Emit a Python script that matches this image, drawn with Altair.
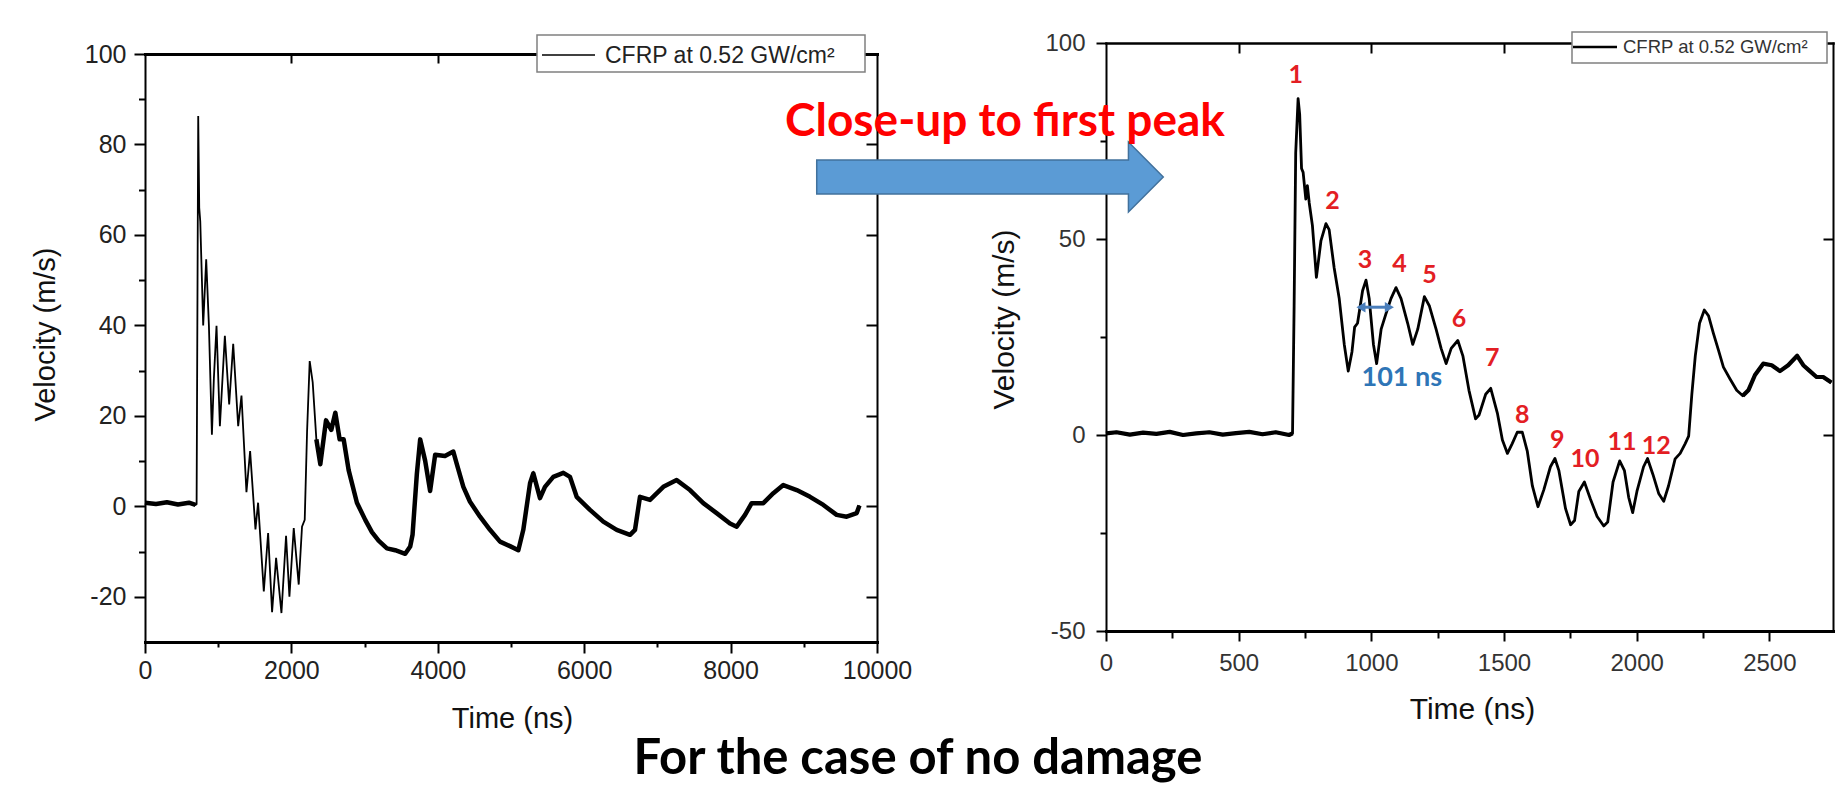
import altair as alt
import pandas as pd

# ---------------- data ----------------
left_time = [0, 150, 300, 450, 600, 690, 705, 727, 741, 755, 795, 836, 873, 914, 941, 977,
             1023, 1091, 1150, 1205, 1273, 1318, 1386, 1436, 1509, 1545, 1623, 1682, 1736,
             1791, 1864, 1927, 1973, 2032, 2100, 2145, 2182, 2214, 2250, 2291, 2341, 2395,
             2473, 2545, 2600, 2659, 2714, 2782, 2895, 3009, 3100, 3191, 3305, 3418, 3555,
             3623, 3655, 3714, 3759, 3827, 3895, 3964, 4098, 4212, 4257, 4349, 4440, 4577,
             4713, 4850, 4986, 5100, 5168, 5260, 5305, 5396, 5464, 5578, 5715, 5806, 5897,
             6079, 6261, 6444, 6626, 6694, 6762, 6899, 7081, 7263, 7445, 7627, 7809, 7992,
             8083, 8197, 8288, 8447, 8584, 8720, 8903, 9085, 9267, 9449, 9586, 9723, 9760]
left_velocity = [0.8, 0.5, 0.9, 0.4, 0.8, 0.3, 0.5, 86.3, 66.0, 63.0, 40.0, 54.6, 40.0, 15.8,
                 28.3, 39.9, 17.7, 37.7, 22.5, 35.9, 17.7, 24.5, 3.1, 12.2, -5.1, 0.8, -18.8,
                 -5.9, -23.4, -11.4, -23.6, -6.5, -20.0, -4.8, -17.3, -4.5, -3.0, 16.5, 32.1,
                 27.4, 14.8, 9.3, 19.0, 16.9, 20.7, 14.8, 14.8, 8.0, 0.8, -3.0, -5.7, -7.6,
                 -9.3, -9.7, -10.5, -8.9, -6.3, 7.2, 14.8, 10.1, 3.4, 11.4, 11.1, 12.1, 9.5,
                 4.3, 1.0, -2.3, -5.2, -7.8, -8.8, -9.7, -5.2, 5.1, 7.3, 1.8, 4.3, 6.5, 7.4,
                 6.5, 2.1, -0.8, -3.4, -5.2, -6.3, -5.2, 2.1, 1.4, 4.3, 5.8, 3.6, 0.7, -1.5,
                 -3.8, -4.5, -1.9, 0.7, 0.7, 2.9, 4.7, 3.6, 2.1, 0.3, -1.9, -2.3, -1.5, 0.2]

right_time = [0, 40, 90, 140, 190, 240, 290, 340, 390, 440, 490, 540, 590, 640, 690, 703,
              709, 715, 724, 730, 737, 743, 753, 759, 766, 778, 793, 810, 829, 841, 860, 879,
              898, 913, 927, 937, 948, 967, 980, 992, 1008, 1020, 1037, 1055, 1074, 1093,
              1112, 1137, 1156, 1175, 1200, 1219, 1244, 1263, 1282, 1301, 1326, 1345, 1368,
              1393, 1406, 1431, 1450, 1475, 1494, 1513, 1531, 1550, 1569, 1588, 1607, 1628,
              1650, 1675, 1692, 1707, 1732, 1751, 1766, 1782, 1803, 1826, 1851, 1876, 1891,
              1911, 1936, 1954, 1970, 1985, 2001, 2026, 2041, 2061, 2083, 2102, 2120, 2145,
              2164, 2183, 2196, 2208, 2221, 2237, 2255, 2271, 2289, 2308, 2327, 2352, 2377,
              2400, 2421, 2446, 2477, 2509, 2540, 2571, 2605, 2628, 2653, 2678, 2703, 2734]
right_velocity = [0.4, 0.7, 0.1, 0.6, 0.3, 0.8, 0.0, 0.4, 0.7, 0.1, 0.5, 0.8, 0.2, 0.7,
                  0.0, 0.4, 32.9, 72.0, 85.8, 81.7, 68.0, 67.0, 60.2, 63.6, 59.2, 53.4, 40.2,
                  49.5, 53.9, 52.4, 42.6, 34.8, 23.1, 16.3, 21.2, 27.5, 28.5, 36.8, 39.5, 34.8,
                  23.1, 18.2, 27.0, 30.9, 34.8, 37.6, 34.8, 28.5, 23.1, 27.0, 35.3, 32.9, 27.0,
                  22.1, 18.2, 22.1, 24.1, 20.2, 11.4, 4.1, 5.1, 10.4, 11.9, 5.6, -1.3, -4.7,
                  -2.2, 0.7, 0.7, -4.2, -13.0, -18.3, -14.0, -8.1, -6.0, -9.1, -18.8, -22.9,
                  -21.8, -14.4, -12.0, -16.4, -20.8, -23.2, -22.2, -12.0, -6.6, -9.1, -15.9,
                  -19.8, -14.4, -8.1, -6.0, -10.0, -14.9, -16.9, -13.0, -6.1, -4.7, -2.2, -0.3,
                  10.4, 20.2, 28.5, 31.9, 30.4, 26.0, 21.7, 17.3, 14.3, 11.4, 10.0, 11.4, 15.3,
                  18.2, 17.8, 16.3, 17.8, 20.2, 17.8, 16.3, 14.8, 14.8, 13.4]

peak_labels = ["1", "2", "3", "4", "5", "6", "7", "8", "9", "10", "11", "12"]
peak_time = [715, 854, 976, 1106, 1219, 1330, 1456, 1569, 1701, 1805, 1945, 2074]
peak_velocity = [91.9, 59.7, 44.6, 43.6, 40.7, 29.5, 19.7, 5.1, -1.3, -6.1, -1.8, -2.7]

period_text = "101 ns"
period_text_time = [1115]
period_text_velocity = [14.5]
period_arrow_time = [961, 1068]
period_arrow_velocity = [32.6, 32.6]

left_x_major = [0, 2000, 4000, 6000, 8000, 10000]
left_x_minor = [1000, 3000, 5000, 7000, 9000]
left_y_major = [-20, 0, 20, 40, 60, 80, 100]
left_y_minor = [-10, 10, 30, 50, 70, 90]
right_x_major = [0, 500, 1000, 1500, 2000, 2500]
right_x_minor = [250, 750, 1250, 1750, 2250]
right_y_major = [-50, 0, 50, 100]
right_y_minor = [-25, 25, 75]

legend_label = "CFRP at 0.52 GW/cm²"

# ---------------- layout (pixels, relative to the left plot origin) ----------------
W, H = 732, 588
RX = [961, 1688]
RY = [577, -11]
FONT = "Liberation Sans"
RED = "#E31E24"
BLUE = "#2E75B6"
ARROW_BLUE = "#4A7EBB"

left_df = pd.DataFrame({"t": left_time, "v": left_velocity})
right_df = pd.DataFrame({"t": right_time, "v": right_velocity})
peaks_df = pd.DataFrame({"t": peak_time, "v": peak_velocity, "label": peak_labels})
one = pd.DataFrame({"k": [0]})


def ax(**kw):
    base = dict(grid=False, labelFont=FONT, titleFont=FONT, tickColor="black",
                domainColor="black", labelFlush=False, labelOverlap=False,
                labelColor="#222222", titleColor="#111111", titleFontWeight="normal",
                domainCap="square", tickWidth=2, labelExpr="datum.value + ''")
    base.update(kw)
    return alt.Axis(**base)


def bare(values, orient, size, offset=0, domain=False, dw=2):
    kw = dict(values=values, orient=orient, tickSize=size, labels=False, title=None,
              domain=domain, domainWidth=dw)
    if offset:
        kw["offset"] = offset
    return ax(**kw)


lxs = alt.Scale(domain=[0, 10000], nice=False, zero=False)
lys = alt.Scale(domain=[-30, 100], nice=False, zero=False)
rxs = alt.Scale(domain=[0, 2740], range=RX, nice=False, zero=False)
rys = alt.Scale(domain=[-50, 100], range=RY, nice=False, zero=False)

# ---------------- left panel ----------------
left_main = alt.Chart(left_df).mark_line(color="black", strokeWidth=1.8).encode(
    x=alt.X("t:Q", scale=lxs, axis=ax(
        orient="bottom", values=left_x_major, tickSize=11, domainWidth=3,
        labelFontSize=25, labelPadding=5, title="Time (ns)", titleFontSize=29,
        titleX=367, titleY=76, titleBaseline="middle")),
    y=alt.Y("v:Q", scale=lys, axis=ax(
        orient="left", values=left_y_major, tickSize=11, domainWidth=2,
        labelFontSize=25, labelPadding=8, title="Velocity (m/s)", titleFontSize=29,
        titleX=-100, titleY=280, titleBaseline="middle")),
)
left_noise = alt.Chart(left_df).transform_calculate(
    seg="datum.t <= 700 ? 'a' : (datum.t >= 2300 ? 'b' : 'none')"
).transform_filter("datum.seg != 'none'").mark_line(
    color="black", strokeWidth=4.5, strokeJoin="round").encode(
    x=alt.X("t:Q", scale=lxs, axis=bare(left_x_minor, "bottom", 5)),
    y=alt.Y("v:Q", scale=lys, axis=bare(left_y_minor, "left", 6.5)),
    detail="seg:N",
)
left_frame = alt.Chart(left_df).mark_line(strokeOpacity=0).encode(
    x=alt.X("t:Q", scale=lxs, axis=bare(left_x_major[1:-1], "bottom", 9, -H, True, 3)),
    y=alt.Y("v:Q", scale=lys, axis=bare(left_y_major[:-1], "left", 11, -W, True, 2)),
)
left_panel = alt.layer(left_main, left_noise, left_frame).resolve_axis(
    x="independent", y="independent")

# ---------------- right panel ----------------
right_main = alt.Chart(right_df).mark_line(color="black", strokeWidth=2.8,
                                           strokeJoin="round").encode(
    x=alt.X("t:Q", scale=rxs, axis=ax(
        orient="bottom", offset=-11, values=right_x_major, tickSize=10, domainWidth=3,
        labelFontSize=24, labelPadding=10, labelColor="#333333", title="Time (ns)",
        titleFontSize=30, titleX=1327, titleY=78, titleBaseline="middle")),
    y=alt.Y("v:Q", scale=rys, axis=ax(
        orient="left", offset=-961, values=right_y_major, tickSize=10, domainWidth=2,
        labelFontSize=24, labelPadding=11, labelColor="#333333", title="Velocity (m/s)",
        titleFontSize=30, titleX=-102, titleY=265, titleBaseline="middle")),
)
right_noise = alt.Chart(right_df).transform_calculate(
    seg="datum.t <= 703 ? 'a' : (datum.t >= 2380 ? 'b' : 'none')"
).transform_filter("datum.seg != 'none'").mark_line(
    color="black", strokeWidth=4.2, strokeJoin="round").encode(
    x=alt.X("t:Q", scale=rxs, axis=bare(right_x_minor, "bottom", 7, -11)),
    y=alt.Y("v:Q", scale=rys, axis=bare(right_y_minor, "left", 6, -961)),
    detail="seg:N",
)
right_frame = alt.Chart(right_df).mark_line(strokeOpacity=0).encode(
    x=alt.X("t:Q", scale=rxs, axis=bare(right_x_major[1:], "bottom", 10, -(H + 11), True, 2.5)),
    y=alt.Y("v:Q", scale=rys, axis=bare([0, 50], "left", 10, -RX[1], True, 2)),
)
peak_text = alt.Chart(peaks_df).mark_text(
    font="Lato", fontWeight="bold", fontSize=25, color=RED, baseline="middle").encode(
    x=alt.X("t:Q", scale=rxs, axis=None),
    y=alt.Y("v:Q", scale=rys, axis=None),
    text="label:N",
)
period_df = pd.DataFrame({"t": period_text_time, "v": period_text_velocity})
period_label = alt.Chart(period_df).mark_text(
    font="Lato", fontWeight="bold", fontSize=27, color=BLUE, baseline="middle",
    text=period_text).encode(
    x=alt.X("t:Q", scale=rxs, axis=None),
    y=alt.Y("v:Q", scale=rys, axis=None),
)
period_rule = alt.Chart(pd.DataFrame({"t": [period_arrow_time[0]], "t2": [period_arrow_time[1]],
                                      "v": [period_arrow_velocity[0]]})).mark_rule(
    color=ARROW_BLUE, strokeWidth=3).encode(
    x=alt.X("t:Q", scale=rxs, axis=None), x2="t2:Q",
    y=alt.Y("v:Q", scale=rys, axis=None),
)
head_l = alt.Chart(pd.DataFrame({"t": [period_arrow_time[0]], "v": [period_arrow_velocity[0]]})
                   ).mark_point(shape="triangle-left", filled=True, color=ARROW_BLUE,
                                size=110, opacity=1).encode(
    x=alt.X("t:Q", scale=rxs, axis=None), y=alt.Y("v:Q", scale=rys, axis=None))
head_r = alt.Chart(pd.DataFrame({"t": [period_arrow_time[1]], "v": [period_arrow_velocity[1]]})
                   ).mark_point(shape="triangle-right", filled=True, color=ARROW_BLUE,
                                size=110, opacity=1).encode(
    x=alt.X("t:Q", scale=rxs, axis=None), y=alt.Y("v:Q", scale=rys, axis=None))
right_panel = alt.layer(right_main, right_noise, right_frame, period_rule, head_l, head_r,
                        peak_text, period_label).resolve_axis(x="independent", y="independent")

# ---------------- annotations ----------------
base = alt.Chart(one)
leg_l_box = base.mark_rect(fill="white", stroke="#808080", strokeWidth=1.5).encode(
    x=alt.value(392), x2=alt.value(720), y=alt.value(-19), y2=alt.value(18))
leg_l_line = base.mark_rule(color="black", strokeWidth=1.5).encode(
    x=alt.value(397), x2=alt.value(450), y=alt.value(1))
leg_l_text = base.mark_text(align="left", baseline="alphabetic", font=FONT, fontSize=23,
                            color="#222222", text=legend_label).encode(
    x=alt.value(460), y=alt.value(9))
leg_r_box = base.mark_rect(fill="white", stroke="#808080", strokeWidth=1.5).encode(
    x=alt.value(1427), x2=alt.value(1682), y=alt.value(-22), y2=alt.value(9))
leg_r_line = base.mark_rule(color="black", strokeWidth=2.5).encode(
    x=alt.value(1428), x2=alt.value(1472), y=alt.value(-7))
leg_r_text = base.mark_text(align="left", baseline="alphabetic", font=FONT, fontSize=18.5,
                            color="#333333", text=legend_label).encode(
    x=alt.value(1478), y=alt.value(-1))

arrow_path = ("M -1 -0.098 L 0.799 -0.098 L 0.799 -0.202 L 1 0 L 0.799 0.202 "
              "L 0.799 0.098 L -1 0.098 Z")
big_arrow = base.mark_point(shape=arrow_path, size=120100, filled=True, fill="#5B9BD5",
                            stroke="#41719C", strokeWidth=1.5, opacity=1).encode(
    x=alt.value(845), y=alt.value(123))
closeup = base.mark_text(font="Lato", fontWeight="bold", fontSize=46, color="#FF0000",
                         align="center", baseline="alphabetic",
                         text="Close-up to first peak").encode(
    x=alt.value(860), y=alt.value(82))
caption = base.mark_text(font="Lato", fontWeight="bold", fontSize=49, color="black",
                         align="center", baseline="alphabetic",
                         text="For the case of no damage").encode(
    x=alt.value(773), y=alt.value(720))

chart = alt.layer(
    left_panel, right_panel,
    leg_l_box, leg_l_line, leg_l_text, leg_r_box, leg_r_line, leg_r_text,
    big_arrow, closeup, caption,
).resolve_scale(x="independent", y="independent").properties(
    width=W, height=H,
    autosize=alt.AutoSizeParams(type="none"),
    padding={"left": 145, "top": 54, "right": 1837 - 145 - W, "bottom": 789 - 54 - H},
    background="white",
).configure_view(stroke=None)

chart.save("out.html", embed_options={"renderer": "svg", "actions": False})
